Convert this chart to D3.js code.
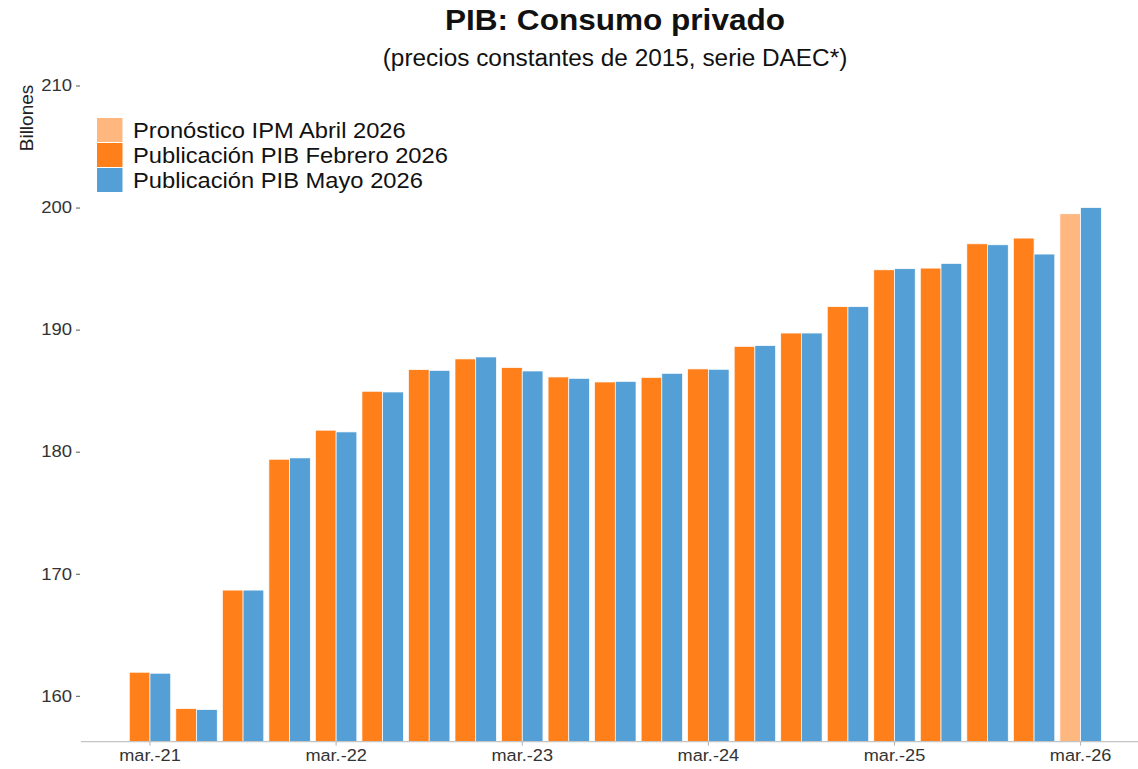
<!DOCTYPE html>
<html><head><meta charset="utf-8">
<script src="https://cdn.jsdelivr.net/npm/d3@7"></script>
<style>body{margin:0;background:#fff;} svg{display:block;font-family:"Liberation Sans",Arial,sans-serif;}</style>
</head><body>
<svg id="c" width="1138" height="769"></svg>
<script>
const quarters = ["mar.-21","jun.-21","sep.-21","dic.-21","mar.-22","jun.-22","sep.-22","dic.-22","mar.-23","jun.-23","sep.-23","dic.-23","mar.-24","jun.-24","sep.-24","dic.-24","mar.-25","jun.-25","sep.-25","dic.-25","mar.-26"];
const pubFeb = [161.93,158.95,168.66,179.38,181.76,184.95,186.72,187.60,186.89,186.12,185.71,186.09,186.78,188.63,189.72,191.88,194.90,195.04,197.03,197.50,null];
const pubMay = [161.85,158.87,168.66,179.49,181.62,184.89,186.66,187.76,186.61,186.01,185.76,186.42,186.75,188.69,189.72,191.88,194.99,195.42,196.95,196.19,200.00];
const forecast = [null,null,null,null,null,null,null,null,null,null,null,null,null,null,null,null,null,null,null,null,199.49];
const yTicks = [160,170,180,190,200,210];
const xTickLabels = ["mar.-21","mar.-22","mar.-23","mar.-24","mar.-25","mar.-26"];
const legendLabels = ["Pronóstico IPM Abril 2026","Publicación PIB Febrero 2026","Publicación PIB Mayo 2026"];
const colors = {forecast:"#ffb780", feb:"#ff7f1a", may:"#549fd6"};

const svg = d3.select("#c");
const y = d3.scaleLinear().domain([156.24,210]).range([741.7,85.5]);
const step = 46.53;
const x = d3.scaleBand().domain(quarters).range([150-step/2, 150+step*20+step/2]).paddingInner(0.11).paddingOuter(0.055);
const xs = d3.scaleBand().domain(["a","b"]).range([0, x.bandwidth()]);

const rows = quarters.map((q,i)=>({q, feb:pubFeb[i], may:pubMay[i], fc:forecast[i]}));
const bars = [];
rows.forEach(r=>{
  if(r.feb!=null) bars.push({q:r.q, slot:"a", v:r.feb, c:colors.feb});
  if(r.fc!=null) bars.push({q:r.q, slot:"a", v:r.fc, c:colors.forecast});
  if(r.may!=null) bars.push({q:r.q, slot:"b", v:r.may, c:colors.may});
});
svg.append("g").selectAll("rect").data(bars).join("rect")
  .attr("x", d=>x(d.q)+xs(d.slot)).attr("width", xs.bandwidth())
  .attr("y", d=>y(d.v)).attr("height", d=>y.range()[0]-y(d.v))
  .attr("fill", d=>d.c).attr("stroke","#ffffff").attr("stroke-width",0.7);

// x axis line
svg.append("line").attr("x1",81).attr("x2",1138).attr("y1",741.7).attr("y2",741.7)
  .attr("stroke","#c4c4c4").attr("stroke-width",1.2);
const xa = svg.append("g").attr("transform","translate(0,741.7)")
  .call(d3.axisBottom(x).tickValues(xTickLabels).tickSize(4).tickPadding(4));
xa.select(".domain").remove();
xa.selectAll("line").attr("stroke","#b0b0b0");
xa.selectAll("text").attr("font-size",16.5).attr("fill","#333").attr("font-family","Liberation Sans, Arial, sans-serif")
  .attr("transform","scale(1.1,1)");

// y axis
const ya = svg.append("g").attr("transform","translate(80,0)")
  .call(d3.axisLeft(y).tickValues(yTicks).tickSize(4).tickPadding(4));
ya.select(".domain").remove();
ya.selectAll("line").attr("stroke","#555");
ya.selectAll("text").attr("font-size",16.5).attr("fill","#333").attr("font-family","Liberation Sans, Arial, sans-serif")
  .attr("x",-8/1.12).attr("transform","scale(1.12,1)");

svg.append("text").attr("transform","translate(33,118) rotate(-90)").attr("text-anchor","middle")
  .attr("font-size",19).attr("fill","#222").text("Billones");

// titles
svg.append("text").attr("transform","translate(615,30) scale(1.07,1)").attr("text-anchor","middle").attr("font-size",29.5).attr("font-weight","bold").attr("fill","#111").text("PIB: Consumo privado");
svg.append("text").attr("transform","translate(615,66) scale(1.06,1)").attr("text-anchor","middle").attr("font-size",23).attr("fill","#111").text("(precios constantes de 2015, serie DAEC*)");

// legend
const legColors = [colors.forecast, colors.feb, colors.may];
const lg = svg.append("g");
legendLabels.forEach((l,i)=>{
  lg.append("rect").attr("x",97).attr("y",118+i*25).attr("width",25.5).attr("height",24).attr("fill",legColors[i]);
  lg.append("text").attr("transform",`translate(133,${130+i*25}) scale(1.04,1)`).attr("dy","0.35em").attr("font-size",22.8).attr("fill","#111").text(l);
});
</script>
</body></html>
